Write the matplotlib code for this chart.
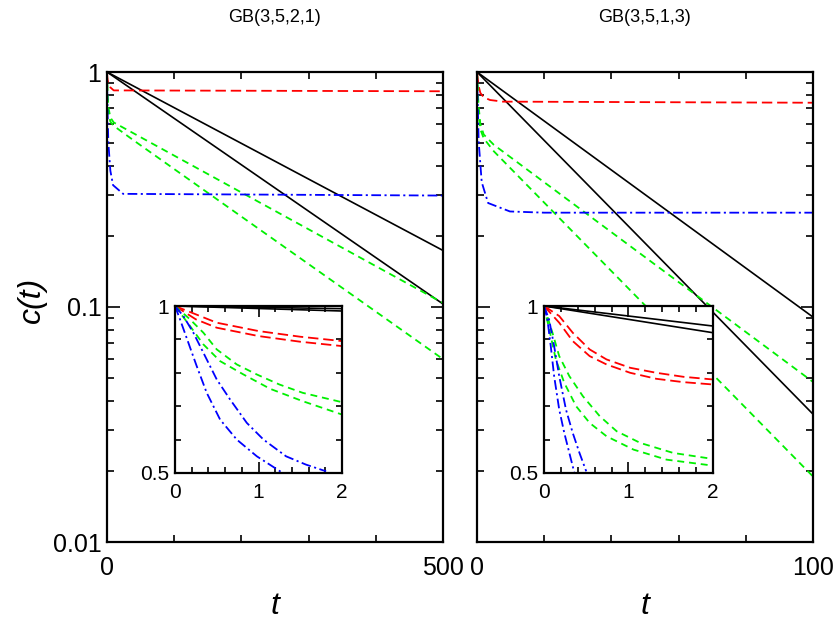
import matplotlib
matplotlib.use('Agg')
import matplotlib.pyplot as plt
from matplotlib.ticker import FixedLocator, NullFormatter, LogLocator, MultipleLocator

plt.rcParams['font.family'] = ['Liberation Sans', 'DejaVu Sans']
plt.rcParams['lines.scale_dashes'] = False

# ---------------- data: left panel GB(3,5,2,1), t in 0..500 ----------------
L_red_t = [0, 0.5, 1, 2, 5, 10, 500]
L_red_c = [1, 0.95, 0.925, 0.895, 0.86, 0.835, 0.828]
L_black_t = [0, 500]
L_black1_c = [1, 0.174]
L_black2_c = [1, 0.103]
L_green_t = [0, 0.5, 1, 2, 5, 10, 38.7, 500]
L_green1_c = [1, 0.87, 0.79, 0.71, 0.64, 0.61, 0.55, 0.104]
L_green2_c = [1, 0.835, 0.75, 0.675, 0.615, 0.59, 0.514, 0.06]
L_blue_t = [0, 0.5, 1, 2, 5, 9, 24, 500]
L_blue_c = [1, 0.78, 0.65, 0.5, 0.38, 0.33, 0.303, 0.298]

# left inset (t in 0..2)
Li_black_t = [0, 2]
Li_black1_c = [1, 0.992]
Li_black2_c = [1, 0.985]
Li_red_t = [0, 0.25, 0.5, 1, 1.5, 2]
Li_red1_c = [1, 0.975, 0.95, 0.925, 0.908, 0.895]
Li_red2_c = [1, 0.96, 0.935, 0.91, 0.893, 0.88]
Li_green1_t = [0, 0.18, 0.34, 0.5, 0.74, 0.98, 1.25, 1.53, 2]
Li_green1_c = [1, 0.96, 0.92, 0.87, 0.825, 0.795, 0.765, 0.74, 0.712]
Li_green2_t = [0, 0.18, 0.34, 0.54, 0.82, 1.14, 1.53, 2]
Li_green2_c = [1, 0.94, 0.885, 0.835, 0.795, 0.752, 0.715, 0.675]
Li_blue1_t = [0, 0.1, 0.22, 0.34, 0.5, 0.66, 0.86, 1.06, 1.33, 1.57, 1.81]
Li_blue1_c = [1, 0.97, 0.92, 0.86, 0.78, 0.72, 0.65, 0.60, 0.55, 0.525, 0.505]
Li_blue2_t = [0, 0.06, 0.16, 0.26, 0.38, 0.54, 0.74, 0.98, 1.29]
Li_blue2_c = [1, 0.96, 0.89, 0.82, 0.74, 0.66, 0.60, 0.55, 0.50]

# ---------------- data: right panel GB(3,5,1,3), t in 0..100 ----------------
R_red_t = [0, 0.5, 1, 2, 3.9, 7.7, 100]
R_red_c = [1, 0.87, 0.815, 0.78, 0.76, 0.748, 0.74]
R_black_t = [0, 100]
R_black1_c = [1, 0.0906]
R_black2_c = [1, 0.035]
R_green_t = [0, 0.1, 0.3, 0.5, 1, 2, 5, 100]
R_green1_c = [1, 0.92, 0.79, 0.71, 0.60, 0.542, 0.49, 0.048]
R_green2_c = [1, 0.91, 0.73, 0.65, 0.57, 0.522, 0.46, 0.019]
R_blue_t = [0, 0.1, 0.3, 0.5, 1.4, 3.3, 9.8, 20, 100]
R_blue_c = [1, 0.86, 0.66, 0.505, 0.34, 0.277, 0.255, 0.252, 0.252]

# right inset
Ri_black_t = [0, 2]
Ri_black1_c = [1, 0.94]
Ri_black2_c = [1, 0.92]
Ri_red_t = [0, 0.18, 0.34, 0.54, 0.74, 1.02, 1.33, 1.65, 2]
Ri_red1_c = [1, 0.97, 0.92, 0.87, 0.84, 0.815, 0.80, 0.788, 0.78]
Ri_red2_c = [1, 0.95, 0.895, 0.85, 0.825, 0.80, 0.782, 0.772, 0.765]
Ri_green1_t = [0, 0.1, 0.18, 0.3, 0.46, 0.66, 0.86, 1.14, 1.53, 2]
Ri_green1_c = [1, 0.92, 0.85, 0.79, 0.73, 0.67, 0.625, 0.59, 0.56, 0.542]
Ri_green2_t = [0, 0.08, 0.14, 0.24, 0.38, 0.54, 0.74, 1.06, 1.45, 2]
Ri_green2_c = [1, 0.91, 0.84, 0.77, 0.70, 0.65, 0.61, 0.57, 0.54, 0.522]
Ri_blue1_t = [0, 0.06, 0.12, 0.18, 0.26, 0.34, 0.42, 0.5]
Ri_blue1_c = [1, 0.96, 0.88, 0.79, 0.69, 0.62, 0.56, 0.505]
Ri_blue2_t = [0, 0.04, 0.08, 0.12, 0.18, 0.24, 0.3, 0.36]
Ri_blue2_c = [1, 0.96, 0.88, 0.79, 0.69, 0.62, 0.56, 0.5]

titles = ['GB(3,5,2,1)', 'GB(3,5,1,3)']
xmax = [500, 100]

# line styles
RED = dict(color='#ff0000', lw=1.3, dashes=(7.5, 3.5))
GREEN = dict(color='#00f000', lw=1.3, dashes=(5, 3.5))
BLUE = dict(color='#0000ff', lw=1.3, dashes=(7, 2.5, 1.5, 2.5))
BLACK = dict(color='black', lw=1.2)

W, H = 837, 628
fig = plt.figure(figsize=(W / 100, H / 100), dpi=100)


def fr(x0, y0, x1, y1):
    return [x0 / W, 1 - y1 / H, (x1 - x0) / W, (y1 - y0) / H]


axL = fig.add_axes(fr(107, 72, 443, 542))
axR = fig.add_axes(fr(477, 72, 813, 542))
insL = fig.add_axes(fr(175, 306, 342, 473))
insR = fig.add_axes(fr(544, 306, 713, 473))


def style_main(ax, xm, ylabels):
    ax.set_yscale('log')
    ax.set_xlim(0, xm)
    ax.set_ylim(0.01, 1)
    ax.xaxis.set_major_locator(FixedLocator([0, xm]))
    ax.xaxis.set_minor_locator(MultipleLocator(xm / 5))
    ax.set_xticklabels(['0', str(xm)])
    ax.yaxis.set_major_locator(FixedLocator([0.01, 0.1, 1]))
    ax.yaxis.set_minor_locator(LogLocator(base=10, subs=range(2, 10), numticks=10))
    ax.yaxis.set_minor_formatter(NullFormatter())
    if ylabels:
        ax.set_yticklabels(['0.01', '0.1', '1'])
    else:
        ax.set_yticklabels([])
    ax.tick_params(which='both', direction='in', top=True, right=True,
                   labelsize=18, width=1.2)
    ax.tick_params(axis='y', which='major', length=9, pad=4)
    ax.tick_params(axis='y', which='minor', length=5)
    ax.tick_params(axis='x', which='major', length=0, pad=10)
    ax.tick_params(axis='x', which='minor', length=5)
    for s in ax.spines.values():
        s.set_linewidth(1.6)
    ax.set_xlabel('t', fontsize=23, style='italic', labelpad=8)


def style_inset(ax):
    ax.set_xlim(0, 2)
    ax.set_ylim(0.5, 1)
    ax.set_xticks([0, 1, 2])
    ax.set_xticklabels(['0', '1', '2'])
    ax.xaxis.set_minor_locator(MultipleLocator(0.2))
    ax.set_yticks([0.5, 1])
    ax.set_yticklabels(['0.5', '1'])
    ax.yaxis.set_minor_locator(MultipleLocator(0.1))
    ax.tick_params(which='both', direction='in', top=True, right=True,
                   labelsize=15, width=1.2)
    ax.tick_params(axis='x', pad=7)
    ax.tick_params(axis='y', pad=4)
    ax.tick_params(which='major', length=8)
    ax.tick_params(which='minor', length=4)
    for s in ax.spines.values():
        s.set_linewidth(1.6)
    ax.set_facecolor('white')


# left main
axL.plot(L_black_t, L_black1_c, **BLACK)
axL.plot(L_black_t, L_black2_c, **BLACK)
axL.plot(L_red_t, L_red_c, **RED)
axL.plot(L_green_t, L_green1_c, **GREEN)
axL.plot(L_green_t, L_green2_c, **GREEN)
axL.plot(L_blue_t, L_blue_c, **BLUE)
style_main(axL, xmax[0], True)

# right main
axR.plot(R_black_t, R_black1_c, **BLACK)
axR.plot(R_black_t, R_black2_c, **BLACK)
axR.plot(R_red_t, R_red_c, **RED)
axR.plot(R_green_t, R_green1_c, **GREEN)
axR.plot(R_green_t, R_green2_c, **GREEN)
axR.plot(R_blue_t, R_blue_c, **BLUE)
style_main(axR, xmax[1], False)

# left inset
insL.plot(Li_black_t, Li_black1_c, **BLACK)
insL.plot(Li_black_t, Li_black2_c, **BLACK)
insL.plot(Li_red_t, Li_red1_c, **RED)
insL.plot(Li_red_t, Li_red2_c, **RED)
insL.plot(Li_green1_t, Li_green1_c, **GREEN)
insL.plot(Li_green2_t, Li_green2_c, **GREEN)
insL.plot(Li_blue1_t, Li_blue1_c, **BLUE)
insL.plot(Li_blue2_t, Li_blue2_c, **BLUE)
style_inset(insL)

# right inset
insR.plot(Ri_black_t, Ri_black1_c, **BLACK)
insR.plot(Ri_black_t, Ri_black2_c, **BLACK)
insR.plot(Ri_red_t, Ri_red1_c, **RED)
insR.plot(Ri_red_t, Ri_red2_c, **RED)
insR.plot(Ri_green1_t, Ri_green1_c, **GREEN)
insR.plot(Ri_green2_t, Ri_green2_c, **GREEN)
insR.plot(Ri_blue1_t, Ri_blue1_c, **BLUE)
insR.plot(Ri_blue2_t, Ri_blue2_c, **BLUE)
style_inset(insR)

# y label and panel titles
fig.text(32 / W, 1 - 300 / H, 'c(t)', rotation=90, ha='center', va='center',
         fontsize=23, style='italic')
fig.text(275 / W, 1 - 18 / H, titles[0], ha='center', va='center', fontsize=13)
fig.text(645 / W, 1 - 18 / H, titles[1], ha='center', va='center', fontsize=13)

fig.savefig('out.png', dpi=100, facecolor='white')
